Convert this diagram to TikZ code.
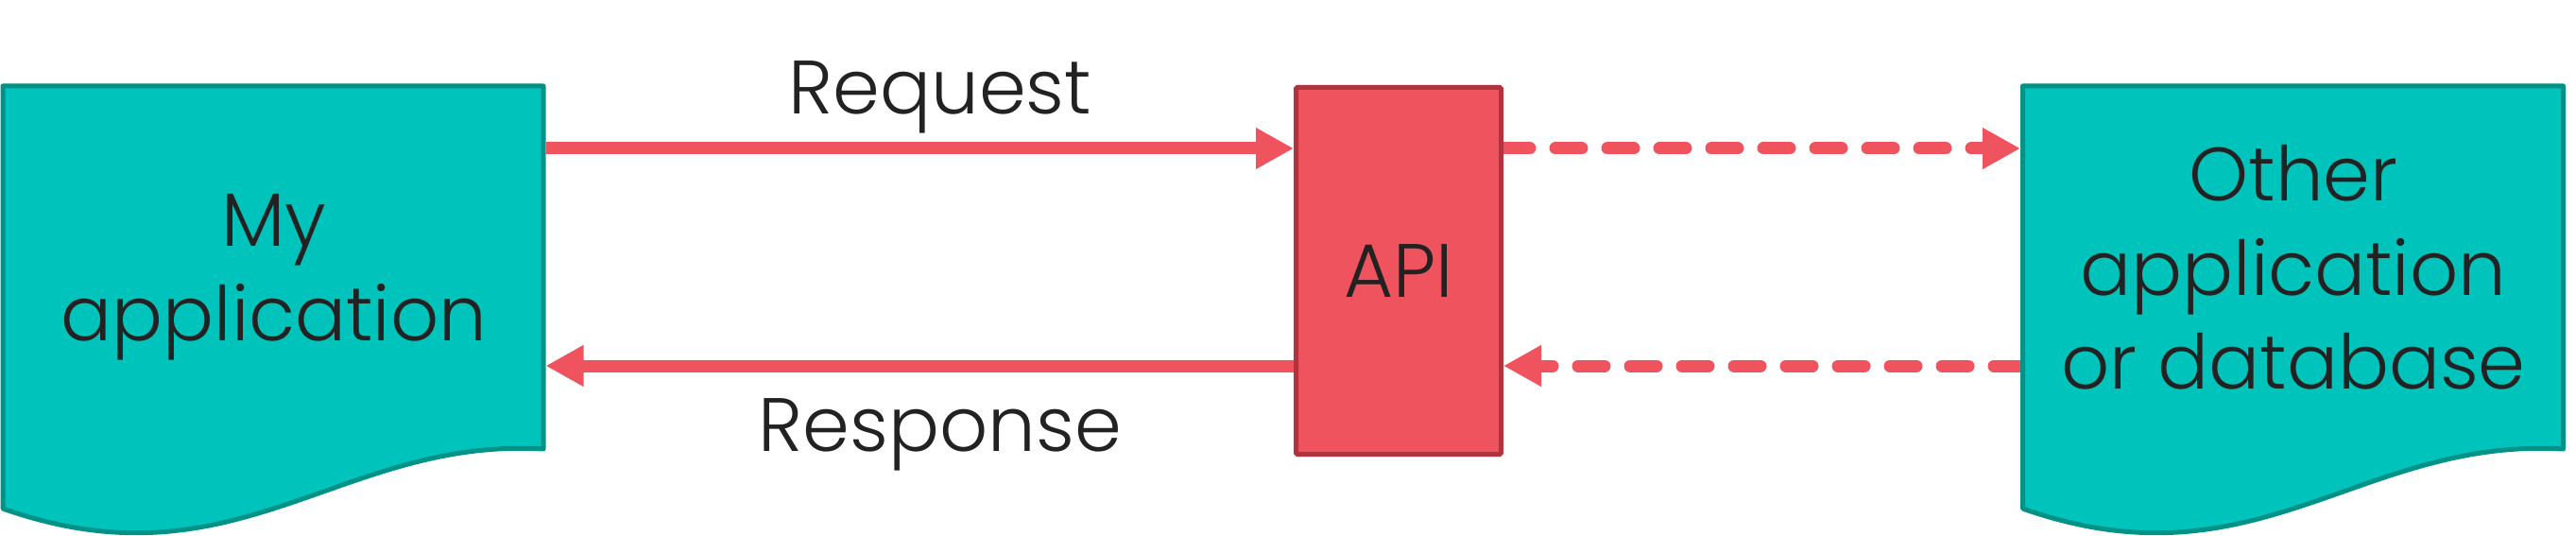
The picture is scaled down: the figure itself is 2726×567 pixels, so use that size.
\documentclass[tikz,border=0pt]{standalone}
\usepackage{fontspec}
\setmainfont{Poppins Light}
\usetikzlibrary{arrows.meta,backgrounds}
\definecolor{docfill}{RGB}{0,196,188}
\definecolor{docline}{RGB}{0,146,135}
\definecolor{apifill}{RGB}{238,83,94}
\definecolor{apiline}{RGB}{176,52,62}
\definecolor{arrowred}{RGB}{238,83,94}
\definecolor{txtcol}{RGB}{34,34,34}
\begin{document}
\begin{tikzpicture}[x=1pt,y=-1pt,
  docframe/.style={rectangle, minimum width=577pt, minimum height=389pt, inner sep=0pt, outer sep=0pt},
  docshape/.style={fill=docfill, draw=docline, line width=5pt, line join=round},
  doctext/.style={align=center, text=txtcol, font=\fontsize{80}{99.5}\selectfont, inner sep=0pt},
  apibox/.style={rectangle, draw=apiline, fill=apifill, line width=5pt, minimum width=217pt, minimum height=388pt, inner sep=0pt, text=txtcol, font=\fontsize{80}{100}\selectfont, rounded corners=1.5pt},
  conn/.style={draw=arrowred, line width=13pt, -{Triangle[length=40pt,width=41pt]}},
  dashconn/.style={conn, dash pattern=on 28pt off 27pt, line cap=round},
  lbl/.style={text=txtcol, font=\fontsize{80}{100}\selectfont, inner sep=0pt, anchor=base}]
\useasboundingbox (0,0) rectangle (2726,567);
% document shapes
\path[docshape] (3,91) -- (575,91) -- (575,475) .. controls (360,462) and (250,625) .. (3,538) -- cycle;
\path[docshape] (2140.5,91) -- (2712.5,91) -- (2712.5,475) .. controls (2497.5,462) and (2387.5,625) .. (2140.5,538) -- cycle;
% nodes
\node[docframe] (my) at (289,283) {};
\node[docframe] (other) at (2426.5,283) {};
\node[doctext] (mytext) at (290,293) {My\\application};
\node[doctext] (othertext) at (2427,283) {Other\\application\\or database};
\node[apibox] (api) at (1480,286.5) {API};
\coordinate (rq) at (0,157);
\coordinate (rs) at (0,387);
\begin{pgfonlayer}{background}
\draw[conn] (my.east |- rq) -- (api.west |- rq);
\draw[conn] (api.west |- rs) -- (my.east |- rs);
\draw[dashconn] (api.east |- rq) -- (other.west |- rq);
\draw[dashconn] (other.west |- rs) -- (api.east |- rs);
\end{pgfonlayer}
\node[lbl] (reqlbl) at (995,121) {Request};
\node[lbl] (reslbl) at (995,477) {Response};
\end{tikzpicture}
\end{document}
